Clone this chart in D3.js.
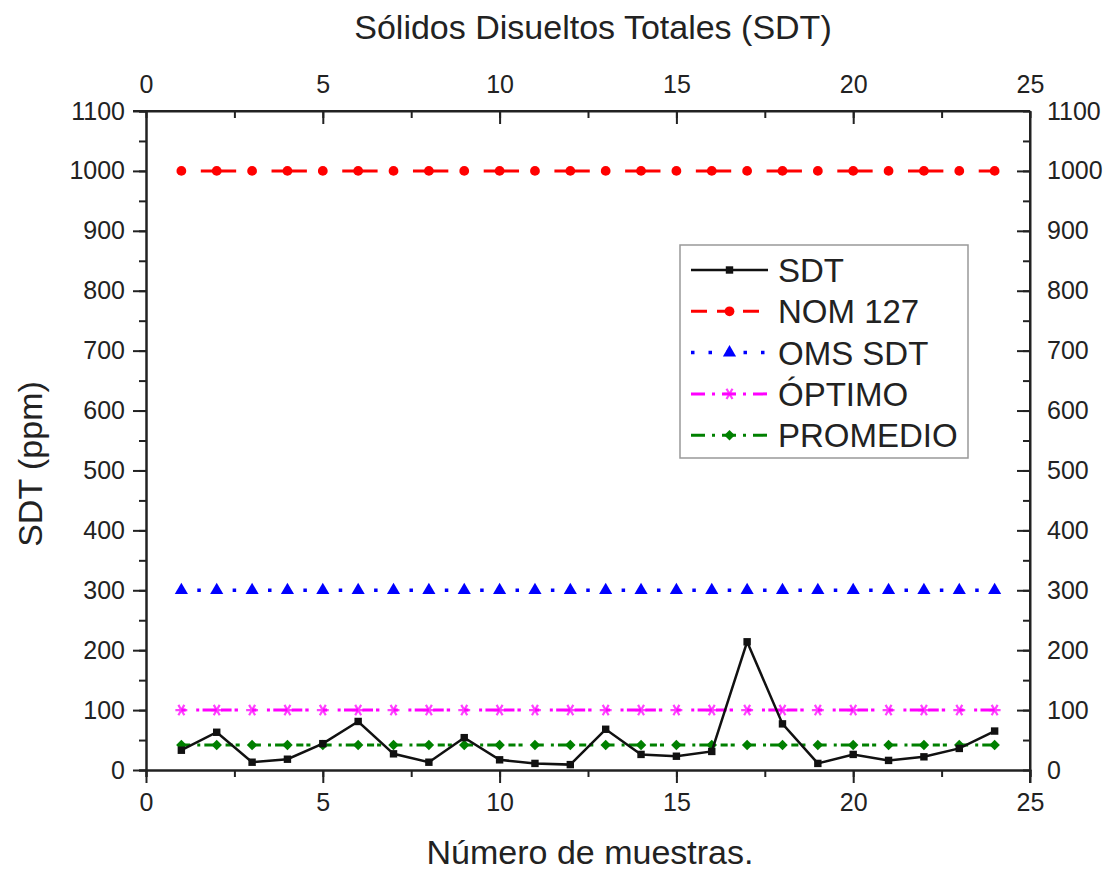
<!DOCTYPE html>
<html>
<head>
<meta charset="utf-8">
<script src="https://cdn.jsdelivr.net/npm/d3@7"></script>
<style>
  body { margin: 0; background: #fff; }
  text { font-family: "Liberation Sans", Arial, sans-serif; fill: #222; }
</style>
</head>
<body>
<svg id="chart" width="1111" height="871"></svg>
<script>
// data
const muestras = [1,2,3,4,5,6,7,8,9,10,11,12,13,14,15,16,17,18,19,20,21,22,23,24];
const sdt = [33,63,13,18,44,81,27,13,54,17,11,9,68,26,23,31,214,77,11,26,16,22,36,65];
const nom127 = [1000,1000,1000,1000,1000,1000,1000,1000,1000,1000,1000,1000,1000,1000,1000,1000,1000,1000,1000,1000,1000,1000,1000,1000];
const omsSdt = [300,300,300,300,300,300,300,300,300,300,300,300,300,300,300,300,300,300,300,300,300,300,300,300];
const optimo = [100,100,100,100,100,100,100,100,100,100,100,100,100,100,100,100,100,100,100,100,100,100,100,100];
const promedio = [41.6,41.6,41.6,41.6,41.6,41.6,41.6,41.6,41.6,41.6,41.6,41.6,41.6,41.6,41.6,41.6,41.6,41.6,41.6,41.6,41.6,41.6,41.6,41.6];
const xTicks = [0, 5, 10, 15, 20, 25];
const yTicks = [0,100,200,300,400,500,600,700,800,900,1000,1100];

const svg = d3.select('#chart');
const pLeft = 146, pRight = 1030, pTop = 111, pBottom = 770;

const x = d3.scaleLinear().domain([0, 25]).range([pLeft, pRight]);
const y = d3.scaleLinear().domain([0, 1100]).range([pBottom, pTop]);
const step = x(2) - x(1);
const fmt = d3.format('d');

// axes
const minorX = d3.range(0, 25.01, 2.5);
const minorY = d3.range(0, 1100.01, 50);
const fs = 25;

function styleAxis(g) {
  g.selectAll('path').attr('stroke', '#222').attr('stroke-width', 2);
  g.selectAll('line').attr('stroke', '#222').attr('stroke-width', 2);
  g.selectAll('text').attr('font-size', fs).attr('fill', '#222')
    .style('font-family', '"Liberation Sans", Arial, sans-serif');
}

// minor ticks first
svg.append('g').attr('transform', `translate(0,${pBottom})`)
  .call(d3.axisBottom(x).tickValues(minorX).tickSize(7).tickFormat(''))
  .call(styleAxis);
svg.append('g').attr('transform', `translate(0,${pTop})`)
  .call(d3.axisBottom(x).tickValues(minorX).tickSize(7).tickFormat('').tickSizeOuter(0))
  .call(styleAxis).select('path').remove();
svg.append('g').attr('transform', `translate(${pLeft},0)`)
  .call(d3.axisLeft(y).tickValues(minorY).tickSize(7).tickFormat(''))
  .call(styleAxis);
svg.append('g').attr('transform', `translate(${pRight},0)`)
  .call(d3.axisLeft(y).tickValues(minorY).tickSize(7).tickFormat('').tickSizeOuter(0))
  .call(styleAxis).select('path').remove();

// major ticks with labels
svg.append('g').attr('transform', `translate(0,${pBottom})`)
  .call(d3.axisBottom(x).tickValues(xTicks).tickFormat(fmt).tickSize(13).tickPadding(10).tickSizeOuter(0))
  .call(styleAxis);
svg.append('g').attr('transform', `translate(0,${pTop})`)
  .call(d3.axisTop(x).tickValues(xTicks).tickFormat(fmt).tickSize(0).tickPadding(18).tickSizeOuter(0))
  .call(styleAxis);
svg.append('g').attr('transform', `translate(0,${pTop})`)
  .call(d3.axisBottom(x).tickValues(xTicks.slice(1, 5)).tickSize(13).tickFormat('').tickSizeOuter(0))
  .call(styleAxis).select('path').remove();
svg.append('g').attr('transform', `translate(${pLeft},0)`)
  .call(d3.axisLeft(y).tickValues(yTicks).tickFormat(fmt).tickSize(13).tickPadding(8).tickSizeOuter(0))
  .call(styleAxis);
svg.append('g').attr('transform', `translate(${pRight},0)`)
  .call(d3.axisRight(y).tickValues(yTicks).tickFormat(fmt).tickSize(0).tickPadding(17).tickSizeOuter(0))
  .call(styleAxis);
svg.append('g').attr('transform', `translate(${pRight},0)`)
  .call(d3.axisLeft(y).tickValues(yTicks.slice(1, 11)).tickSize(13).tickFormat('').tickSizeOuter(0))
  .call(styleAxis).select('path').remove();

// frame lines
svg.append('line').attr('x1', pLeft - 13).attr('x2', pRight).attr('y1', pTop).attr('y2', pTop)
  .attr('stroke', '#222').attr('stroke-width', 2);
svg.append('line').attr('x1', pRight).attr('x2', pRight).attr('y1', pTop).attr('y2', pBottom + 13)
  .attr('stroke', '#222').attr('stroke-width', 2);

// titles
svg.append('text').attr('x', 593).attr('y', 39).attr('text-anchor', 'middle')
  .attr('font-size', 34).text('Sólidos Disueltos Totales (SDT)');
svg.append('text').attr('x', 590).attr('y', 864).attr('text-anchor', 'middle')
  .attr('font-size', 34).text('Número de muestras.');
svg.append('text').attr('transform', 'translate(42,464) rotate(-90)').attr('text-anchor', 'middle')
  .attr('font-size', 34).text('SDT (ppm)');

const line = d3.line().x((d) => x(d[0])).y((d) => y(d[1]));
const pairs = (vals) => muestras.map((m, i) => [m, vals[i]]);

// series definitions
const series = [
  { name: 'NOM 127', vals: nom127, color: '#ff0000', width: 3, dash: `0 ${step * 0.55} ${step * 0.45}`, marker: 'circle' },
  { name: 'OMS SDT', vals: omsSdt, color: '#0000ff', width: 3.5, dash: `3.5 ${step / 2 - 3.5}`, offset: 1.75, marker: 'triangle' },
  { name: 'ÓPTIMO', vals: optimo, color: '#ff00ff', width: 3, dash: `${step * 0.12} ${step * 0.3} 3 ${step * 0.18 - 3} ${step * 0.4}`, offset: 0, marker: 'star' },
  { name: 'PROMEDIO', vals: promedio, color: '#008000', width: 3, dash: `${step * 0.25} ${step * 0.2} 3 ${step * 0.2 - 3} ${step * 0.35}`, offset: 0, marker: 'diamond' },
  { name: 'SDT', vals: sdt, color: '#111', width: 2.5, dash: null, marker: 'square' },
];

const symbols = {
  circle: d3.symbol().type(d3.symbolCircle).size(75),
  triangle: d3.symbol().type(d3.symbolTriangle).size(75),
  star: d3.symbol().type(d3.symbolAsterisk).size(100),
  diamond: d3.symbol().type(d3.symbolSquare).size(55),
  square: d3.symbol().type(d3.symbolSquare).size(55),
};

function drawMarker(g, s, px, py) {
  if (s.marker === 'star') {
    g.append('path').attr('d', symbols.star()).attr('transform', `translate(${px},${py}) rotate(90)`)
      .attr('fill', 'none').attr('stroke', s.color).attr('stroke-width', 2.2).attr('opacity', 0.75);
  } else {
    const rot = s.marker === 'diamond' ? ' rotate(45)' : '';
    g.append('path').attr('d', symbols[s.marker]()).attr('transform', `translate(${px},${py})${rot}`)
      .attr('fill', s.color);
  }
}

series.forEach((s) => {
  const g = svg.append('g');
  const p = g.append('path').datum(pairs(s.vals)).attr('d', line)
    .attr('fill', 'none').attr('stroke', s.color).attr('stroke-width', s.width);
  if (s.dash) p.attr('stroke-dasharray', s.dash).attr('stroke-dashoffset', s.offset || 0);
  pairs(s.vals).forEach((d) => drawMarker(g, s, x(d[0]), y(d[1])));
});

// legend
const lg = svg.append('g');
lg.append('rect').attr('x', 680).attr('y', 245).attr('width', 288).attr('height', 213)
  .attr('fill', '#fff').attr('stroke', '#999').attr('stroke-width', 1.5);
const legendOrder = ['SDT', 'NOM 127', 'OMS SDT', 'ÓPTIMO', 'PROMEDIO'];
const legendDash = { 'NOM 127': '16 10', 'OMS SDT': '3.5 14', 'ÓPTIMO': '14 7 3 7', 'PROMEDIO': '14 7 3 7' };
legendOrder.forEach((name, i) => {
  const s = series.find((d) => d.name === name);
  const ly = 270 + i * 41.3;
  const ls = lg.append('line').attr('x1', 691).attr('x2', 768).attr('y1', ly).attr('y2', ly)
    .attr('stroke', s.color).attr('stroke-width', s.width);
  if (legendDash[name]) ls.attr('stroke-dasharray', legendDash[name]);
  drawMarker(lg, s, 729.5, ly);
  lg.append('text').attr('x', 778).attr('y', ly + 12).attr('font-size', 33).text(name);
});
</script>
</body>
</html>
